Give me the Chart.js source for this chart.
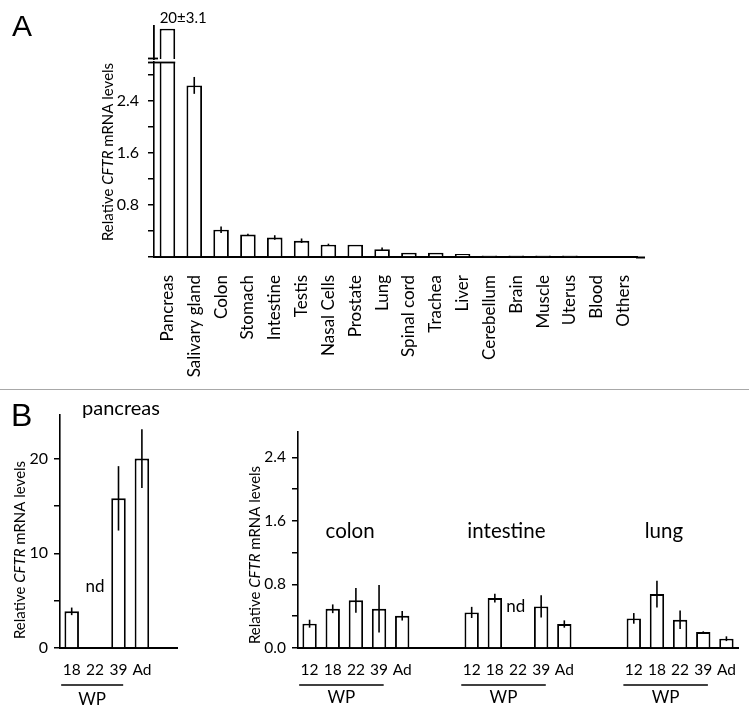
<!DOCTYPE html>
<html>
<head>
<meta charset="utf-8">
<script src="https://cdn.jsdelivr.net/npm/chart.js@4.4.1/dist/chart.umd.min.js"></script>
<style>
  html, body { margin: 0; padding: 0; background: #fff; }
  #wrap { position: relative; width: 749px; height: 717px; overflow: hidden; background: #fff; }
  canvas { position: absolute; }
  .letter { position: absolute; font-family: "Liberation Sans", Arial, sans-serif; line-height: 1; color: #000; }
  #sep { position: absolute; left: 0; top: 389px; width: 749px; height: 1px; background: #a8a8a8; }
</style>
</head>
<body>
<div id="wrap">
  <canvas id="aMain" width="749" height="390" style="left:0;top:0"></canvas>
  <canvas id="aTop" width="749" height="60" style="left:0;top:0"></canvas>
  <div id="sep"></div>
  <canvas id="bLeft" width="250" height="327" style="left:0;top:390px"></canvas>
  <canvas id="bRight" width="519" height="327" style="left:230px;top:390px"></canvas>
  <div class="letter" style="left:12px;top:11px;font-size:30px">A</div>
  <div class="letter" style="left:11px;top:399px;font-size:32px">B</div>
</div>
<script>
// ---------------- data ----------------
const tissues = ['Pancreas','Salivary gland','Colon','Stomach','Intestine','Testis','Nasal Cells','Prostate','Lung','Spinal cord','Trachea','Liver','Cerebellum','Brain','Muscle','Uterus','Blood','Others'];
const tissueLevels = [20, 2.64, 0.42, 0.345, 0.30, 0.25, 0.19, 0.19, 0.12, 0.065, 0.065, 0.045, 0.025, 0.025, 0.025, 0.025, 0, 0];
const tissueErrors = [3.1, 0.13, 0.05, 0.012, 0.035, 0.035, 0.015, 0, 0.025, 0, 0, 0, 0, 0, 0, 0, 0, 0];
const aTickLabels = [0.8, 1.6, 2.4];
const aMinorTicks = [0.4, 1.2, 2.0, 2.8];

const pancreasAges = ['18', '22', '39', 'Ad', ''];
const pancreasLevels = [3.87, null, 15.8, 20.0, null];
const pancreasErrors = [0.4, null, 3.4, 3.1, null];
const bLeftTickLabels = [0, 10, 20];
const bLeftMinorTicks = [5, 15];

const groupNames = ['colon', 'intestine', 'lung'];
const groupAges = ['12', '18', '22', '39', 'Ad'];
const colonLevels = [0.306, 0.494, 0.60, 0.494, 0.406];
const colonErrors = [0.05, 0.055, 0.155, 0.30, 0.06];
const intestineLevels = [0.448, 0.629, null, 0.523, 0.302];
const intestineErrors = [0.07, 0.055, null, 0.14, 0.046];
const lungLevels = [0.373, 0.679, 0.356, 0.20, 0.117];
const lungErrors = [0.067, 0.168, 0.117, 0.01, 0.03];
const bRightTickLabels = [0, 0.8, 1.6, 2.4];
const bRightMinorTicks = [0.4, 1.2, 2.0];

// ---------------- helpers ----------------
const FONT = 'Lato, "Open Sans", sans-serif';
const BLACK = '#000';

function drawYTitle(ctx, cx, cy, size) {
  const parts = [['Relative ', 'normal'], ['CFTR', 'italic'], [' mRNA levels', 'normal']];
  ctx.save();
  ctx.translate(cx, cy);
  ctx.rotate(-Math.PI / 2);
  ctx.fillStyle = BLACK;
  ctx.textBaseline = 'middle';
  ctx.textAlign = 'left';
  let total = 0;
  const widths = parts.map(p => { ctx.font = `${p[1]} ${size}px ${FONT}`; const w = ctx.measureText(p[0]).width; total += w; return w; });
  let x = -total / 2;
  parts.forEach((p, i) => { ctx.font = `${p[1]} ${size}px ${FONT}`; ctx.fillText(p[0], x, 0); x += widths[i]; });
  ctx.restore();
}

function line(ctx, x1, y1, x2, y2, w) {
  ctx.save();
  ctx.strokeStyle = BLACK;
  ctx.lineWidth = w || 1.5;
  ctx.beginPath();
  ctx.moveTo(x1, y1);
  ctx.lineTo(x2, y2);
  ctx.stroke();
  ctx.restore();
}

function text(ctx, str, x, y, size, align, baseline) {
  ctx.save();
  ctx.fillStyle = BLACK;
  ctx.font = `${size}px ${FONT}`;
  ctx.textAlign = align || 'center';
  ctx.textBaseline = baseline || 'alphabetic';
  ctx.fillText(str, x, y);
  ctx.restore();
}

const errorBarPlugin = {
  id: 'errorBars',
  afterDatasetsDraw(chart) {
    const ctx = chart.ctx;
    chart.data.datasets.forEach((ds, di) => {
      if (!ds.errorValues) return;
      const meta = chart.getDatasetMeta(di);
      const ys = chart.scales[meta.yAxisID];
      meta.data.forEach((bar, i) => {
        const v = ds.data[i], e = ds.errorValues[i];
        if (v == null || !e) return;
        if (ds.skipError && ds.skipError.includes(i)) return;
        line(ctx, bar.x, ys.getPixelForValue(v + e), bar.x, ys.getPixelForValue(v - e), 1.6);
      });
    });
  }
};

function barDataset(data, errors, extra) {
  return Object.assign({
    data: data,
    errorValues: errors,
    backgroundColor: '#fff',
    borderColor: BLACK,
    borderWidth: 1.9,
    borderSkipped: 'start',
    categoryPercentage: 1.0,
    barPercentage: 0.6
  }, extra || {});
}

function yAxis(min, max, major, minor, width, fmt, tickPad, fontSize) {
  return {
    min: min, max: max,
    afterBuildTicks: s => { s.ticks = [...new Set([...major, ...minor, 0])].sort((a, b) => a - b).map(v => ({ value: v })); },
    afterFit: s => { s.width = width; },
    ticks: { callback: v => major.includes(v) ? fmt(v) : '', font: { family: FONT, size: fontSize }, color: BLACK, padding: tickPad },
    grid: { display: true, drawOnChartArea: false, drawTicks: true, tickLength: 6, color: BLACK, lineWidth: 1.5 },
    border: { display: true, color: BLACK, width: 1.6 }
  };
}

function xAxis(height, pad, fontSize, rot) {
  return {
    afterFit: s => { s.height = height; },
    grid: { display: false },
    border: { display: true, color: BLACK, width: 2 },
    ticks: { autoSkip: false, maxRotation: rot, minRotation: rot, padding: pad, font: { family: FONT, size: fontSize }, color: BLACK }
  };
}

const common = {
  responsive: false,
  animation: false,
  devicePixelRatio: 1,
  events: [],
  plugins: { legend: { display: false }, tooltip: { enabled: false } }
};

// ---------------- Panel A, main (lower segment) ----------------
new Chart(document.getElementById('aMain'), {
  type: 'bar',
  data: {
    labels: tissues,
    datasets: [barDataset(tissueLevels, tissueErrors, { barPercentage: 0.58, skipError: [0] })]
  },
  options: Object.assign({}, common, {
    layout: { padding: { top: 62, right: 112, left: 0, bottom: 0 } },
    scales: {
      x: xAxis(133, 10, 17, 90),
      y: yAxis(0, 3.0, aTickLabels, aMinorTicks, 154, v => v.toFixed(1), 9, 16)
    }
  }),
  plugins: [errorBarPlugin, {
    id: 'aMainExtras',
    afterDraw(chart) {
      const ctx = chart.ctx, ca = chart.chartArea;
      const bar = chart.getDatasetMeta(0).data[0];
      line(ctx, ca.left - 6, ca.top + 0.5, bar.x + bar.width / 2, ca.top + 0.5, 1.8);
      line(ctx, ca.right - 1, ca.bottom + 0.5, ca.right + 8, ca.bottom + 0.5, 2);
      drawYTitle(ctx, 108, 152, 15);
    }
  }]
});

// ---------------- Panel A, upper segment of the broken pancreas bar ----------------
new Chart(document.getElementById('aTop'), {
  type: 'bar',
  data: {
    labels: tissues,
    datasets: [barDataset(tissueLevels.map((v, i) => i === 0 ? v : null), null, { barPercentage: 0.58, borderSkipped: false })]
  },
  options: Object.assign({}, common, {
    layout: { padding: { top: 26, right: 112, left: 0, bottom: 1 } },
    scales: {
      x: { display: false },
      y: {
        min: 16.6, max: 20.3,
        afterFit: s => { s.width = 154; },
        ticks: { display: false },
        grid: { display: false },
        border: { display: true, color: BLACK, width: 1.8 }
      }
    }
  }),
  plugins: [{
    id: 'aTopExtras',
    afterDraw(chart) {
      const ctx = chart.ctx, ca = chart.chartArea;
      const bar = chart.getDatasetMeta(0).data[0];
      line(ctx, ca.left - 6, ca.bottom - 0.5, ca.left + 4, ca.bottom - 0.5, 1.8);
      text(ctx, `${tissueLevels[0]}±${tissueErrors[0]}`, bar.x - bar.width / 2, 23, 15, 'left', 'alphabetic');
    }
  }]
});

// ---------------- Panel B, pancreas ----------------
function wpGroup(ctx, chart, firstIdx, idx39, yLine, yText) {
  const xs = chart.scales.x;
  const step = xs.getPixelForValue(1) - xs.getPixelForValue(0);
  const x1 = xs.getPixelForValue(firstIdx) - 0.45 * step;
  const x2 = xs.getPixelForValue(idx39) + 0.2 * step;
  line(ctx, x1, yLine, x2, yLine, 1.5);
  text(ctx, 'WP', (x1 + x2) / 2, yText, 17, 'center', 'alphabetic');
}

new Chart(document.getElementById('bLeft'), {
  type: 'bar',
  data: {
    labels: pancreasAges,
    datasets: [barDataset(pancreasLevels, pancreasErrors, { barPercentage: 0.62 })]
  },
  options: Object.assign({}, common, {
    layout: { padding: { top: 25, right: 73, left: 0, bottom: 0 } },
    scales: {
      x: xAxis(69, 5, 15.5, 0),
      y: yAxis(0, 24.6, bLeftTickLabels, bLeftMinorTicks, 60, v => String(v), 6, 16)
    }
  }),
  plugins: [errorBarPlugin, {
    id: 'bLeftExtras',
    afterDraw(chart) {
      const ctx = chart.ctx;
      const xs = chart.scales.x, ys = chart.scales.y;
      text(ctx, 'pancreas', 121, 25, 20, 'center', 'alphabetic');
      text(ctx, 'nd', xs.getPixelForValue(1), ys.getPixelForValue(6.5), 17, 'center', 'middle');
      wpGroup(ctx, chart, 0, 2, 295, 315);
      drawYTitle(ctx, 20, 160, 15);
    }
  }]
});

// ---------------- Panel B, colon / intestine / lung ----------------
const gap = ['', ''];
const gapVals = [null, null];
const rightLabels = [...groupAges, ...gap, ...groupAges, ...gap, ...groupAges];
const rightLevels = [...colonLevels, ...gapVals, ...intestineLevels, ...gapVals, ...lungLevels];
const rightErrors = [...colonErrors, ...gapVals, ...intestineErrors, ...gapVals, ...lungErrors];

new Chart(document.getElementById('bRight'), {
  type: 'bar',
  data: {
    labels: rightLabels,
    datasets: [barDataset(rightLevels, rightErrors, { barPercentage: 0.62 })]
  },
  options: Object.assign({}, common, {
    layout: { padding: { top: 42, right: 11, left: 0, bottom: 0 } },
    scales: {
      x: xAxis(69, 5, 15.5, 0),
      y: yAxis(0, 2.72, bRightTickLabels, bRightMinorTicks, 68, v => v.toFixed(1), 6, 15.5)
    }
  }),
  plugins: [errorBarPlugin, {
    id: 'bRightExtras',
    afterDraw(chart) {
      const ctx = chart.ctx;
      const xs = chart.scales.x, ys = chart.scales.y;
      const starts = [0, 7, 14];
      const titleOffsets = [1.75, 1.5, 1.3];
      groupNames.forEach((name, g) => {
        text(ctx, name, xs.getPixelForValue(starts[g] + titleOffsets[g]), ys.getPixelForValue(1.39), 20.5, 'center', 'alphabetic');
        wpGroup(ctx, chart, starts[g], starts[g] + 3, 295, 313);
      });
      text(ctx, 'nd', xs.getPixelForValue(7 + 1.9), ys.getPixelForValue(0.52), 17, 'center', 'middle');
      drawYTitle(ctx, 25, 165, 15);
    }
  }]
});
</script>
</body>
</html>
